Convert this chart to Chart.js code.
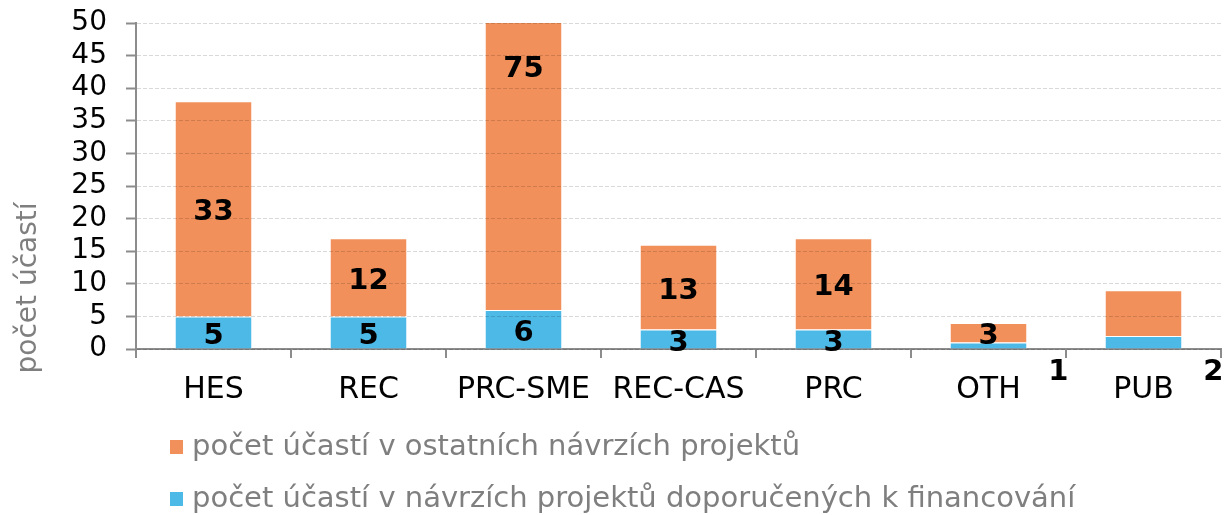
<!DOCTYPE html>
<html>
<head>
<meta charset="utf-8">
<script src="https://cdn.jsdelivr.net/npm/chart.js@4/dist/chart.umd.min.js"></script>
<style>
  html, body { margin: 0; padding: 0; background: #fff; }
  #wrap { width: 1226px; height: 515px; position: relative; }
</style>
</head>
<body>
<div id="wrap"><canvas id="myChart" width="1226" height="515"></canvas></div>
<script>
// data
const categories = ['HES', 'REC', 'PRC-SME', 'REC-CAS', 'PRC', 'OTH', 'PUB'];
const doporucene = [5, 5, 6, 3, 3, 1, 2];
const ostatni = [33, 12, 75, 13, 14, 3, 7];
const yTicks = [0, 5, 10, 15, 20, 25, 30, 35, 40, 45, 50];

const labelOstatni = 'počet účastí v ostatních návrzích projektů';
const labelDoporucene = 'počet účastí v návrzích projektů doporučených k financování';
const yTitle = 'počet účastí';

const barvaOranz = '#F1905A';
const barvaModra = '#4DB9E6';
const seda = '#7F7F7F';
const osa = '#8C8C8C';
const font = '"DejaVu Sans", Verdana, sans-serif';

// popisky hodnot uvnitr sloupcu (male hodnoty vedle osy, nektere skryte)
const skryte = { 1: ['PUB'] };

const popiskyPlugin = {
    id: 'popisky',
    afterDatasetsDraw(chart) {
        const ctx = chart.ctx;
        const xs = chart.scales.x;
        const ys = chart.scales.y;
        ctx.save();
        ctx.font = 'bold 29px ' + font;
        ctx.fillStyle = '#000';
        ctx.textAlign = 'center';
        ctx.textBaseline = 'middle';
        chart.data.datasets.forEach((ds, di) => {
            const meta = chart.getDatasetMeta(di);
            meta.data.forEach((el, i) => {
                const v = ds.data[i];
                if (skryte[di] && skryte[di].includes(categories[i])) return;
                let x = el.x;
                let y = (el.y + el.base) / 2 + 4;
                if (di === 0 && v < 3) {
                    // posunuto pod osu, k pravemu okraji kategorie
                    const w = xs.width / categories.length;
                    x = el.x + w * 0.45;
                    y = ys.bottom + 23;
                }
                ctx.fillText(String(v), x, y);
            });
        });
        ctx.restore();
    },
    afterDraw(chart) {
        const ctx = chart.ctx;
        ctx.save();
        // nazev osy y
        ctx.fillStyle = seda;
        ctx.font = '28px ' + font;
        ctx.textAlign = 'center';
        ctx.textBaseline = 'middle';
        ctx.translate(29, 288);
        ctx.rotate(-Math.PI / 2);
        ctx.fillText(yTitle, 0, 0);
        ctx.restore();

        // legenda
        ctx.save();
        ctx.font = '29px ' + font;
        ctx.textAlign = 'left';
        ctx.textBaseline = 'middle';
        const polozky = [
            { text: labelOstatni, color: barvaOranz, y: 447 },
            { text: labelDoporucene, color: barvaModra, y: 499 }
        ];
        polozky.forEach(p => {
            ctx.fillStyle = p.color;
            ctx.fillRect(170, p.y - 7, 13, 14);
            ctx.fillStyle = seda;
            ctx.fillText(p.text, 192, p.y);
        });
        ctx.restore();
    }
};

const ctx = document.getElementById('myChart');

new Chart(ctx, {
    type: 'bar',
    data: {
        labels: categories,
        datasets: [{
            label: labelDoporucene,
            data: doporucene,
            backgroundColor: barvaModra,
            borderColor: 'rgba(255,255,255,0.9)',
            borderWidth: 1,
            barPercentage: 1,
            categoryPercentage: 0.5
        }, {
            label: labelOstatni,
            data: ostatni,
            backgroundColor: barvaOranz,
            borderColor: 'rgba(255,255,255,0.9)',
            borderWidth: 1,
            barPercentage: 1,
            categoryPercentage: 0.5
        }]
    },
    options: {
        responsive: false,
        animation: false,
        layout: { padding: { left: 0, right: 5, top: 23, bottom: 0 } },
        plugins: {
            legend: { display: false },
            tooltip: { enabled: false }
        },
        scales: {
            x: {
                stacked: true,
                grid: {
                    offset: true,
                    drawOnChartArea: false,
                    color: osa,
                    lineWidth: 2,
                    tickLength: 9
                },
                border: { color: osa, width: 2 },
                ticks: {
                    color: '#000',
                    font: { family: font, size: 30 },
                    padding: 14,
                    maxRotation: 0,
                    autoSkip: false
                },
                afterFit(scale) {
                    scale.height = 166;
                    scale.paddingLeft = 0;
                    scale.paddingRight = 0;
                }
            },
            y: {
                stacked: true,
                min: 0,
                max: 50,
                grid: {
                    color: 'rgba(0,0,0,0.15)',
                    lineWidth: 1,
                    tickLength: 10,
                    tickColor: osa,
                    tickWidth: 2,
                    tickBorderDash: [],
                    z: 1
                },
                border: { color: osa, width: 2, dash: [4, 2], z: 2 },
                ticks: {
                    color: '#000',
                    font: { family: font, size: 28 },
                    padding: 19,
                    stepSize: 5,
                    autoSkip: false,
                    callback: (v) => yTicks.includes(v) ? v : ''
                },
                afterFit(scale) {
                    scale.width = 136;
                    scale.paddingTop = 0;
                    scale.paddingBottom = 0;
                }
            }
        }
    },
    plugins: [popiskyPlugin]
});
</script>
</body>
</html>
